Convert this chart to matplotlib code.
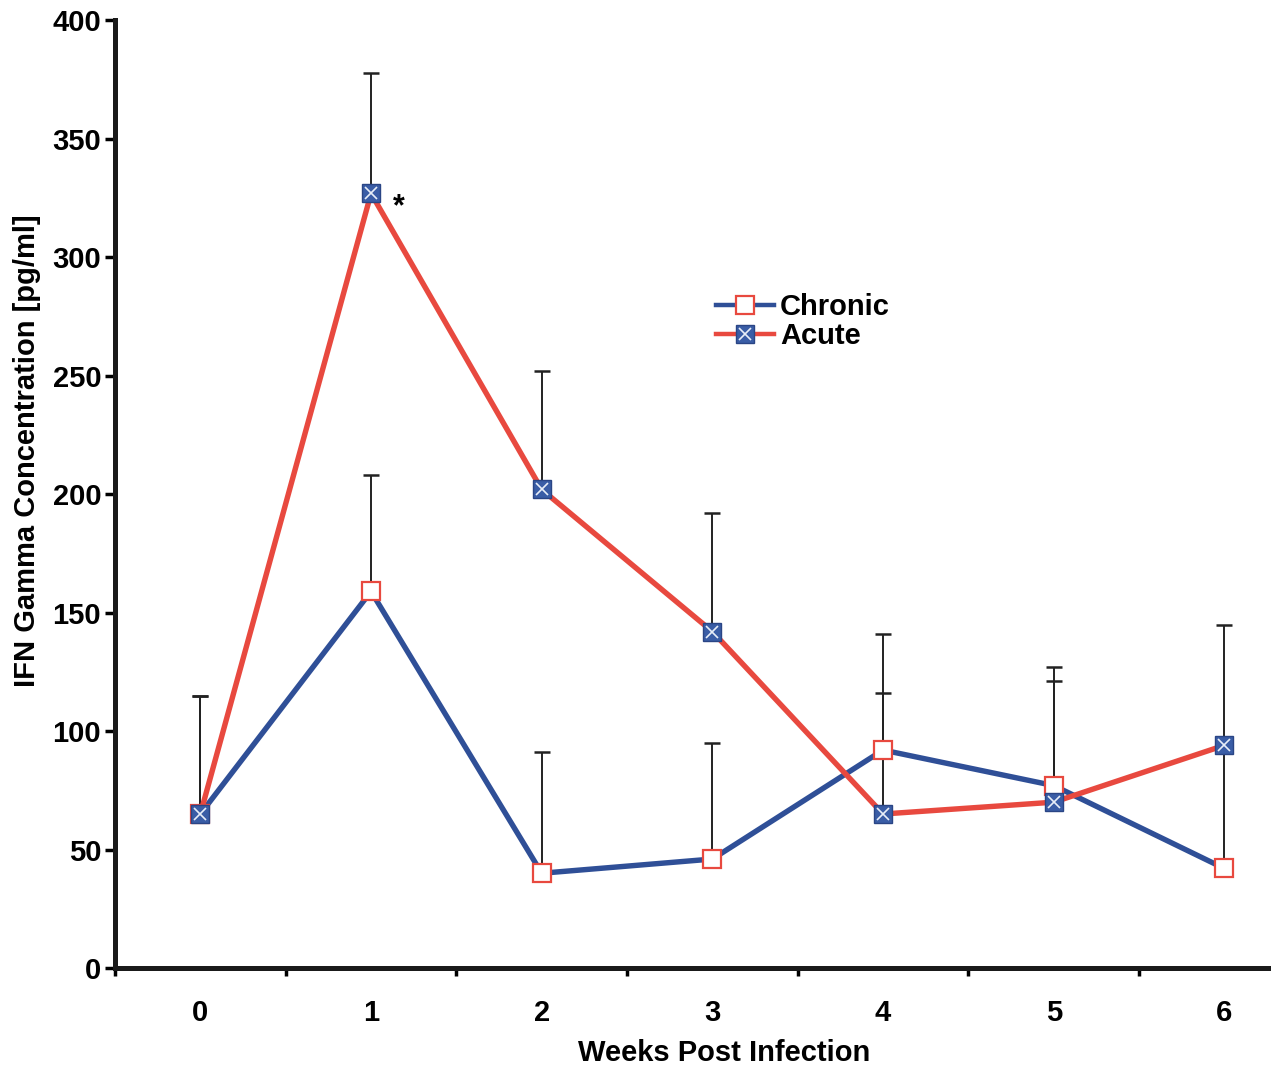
import matplotlib.pyplot as plt
from matplotlib.lines import Line2D
from matplotlib.legend_handler import HandlerTuple

plt.rcParams['font.family'] = ['Liberation Sans', 'DejaVu Sans']
plt.rcParams['font.weight'] = 'bold'

# IFN gamma over weeks post infection
weeks = [0, 1, 2, 3, 4, 5, 6]
chronic = [65, 159, 40, 46, 92, 77, 42]
acute = [65, 327, 202, 142, 65, 70, 94]
# upper error bars only
chronic_err = [50, 49, 51, 49, 49, 50, 52]
acute_err = [50, 51, 50, 50, 51, 51, 51]

red = '#e8493f'
blue = '#2f4f97'
marker_blue = '#3a5da6'

fig = plt.figure(figsize=(12.71, 10.67), dpi=100)
ax = fig.add_axes([0.0905, 0.0928, 0.94, 0.888])

# error bars
ax.errorbar(weeks, chronic, yerr=[[0] * 7, chronic_err], fmt='none',
            ecolor='#222222', elinewidth=1.4, capsize=5.5, capthick=1.8, zorder=1)
ax.errorbar(weeks, acute, yerr=[[0] * 7, acute_err], fmt='none',
            ecolor='#222222', elinewidth=1.4, capsize=5.5, capthick=1.8, zorder=1)

# lines
ax.plot(weeks, chronic, color=blue, lw=3.9, zorder=2, solid_capstyle='butt')
ax.plot(weeks, acute, color=red, lw=3.9, zorder=3, solid_capstyle='butt')

# markers
ax.plot(weeks, chronic, ls='none', marker='s', ms=12.5, mfc='white',
        mec=red, mew=1.6, zorder=4)
ax.plot(weeks, acute, ls='none', marker='s', ms=13, mfc=marker_blue,
        mec='#2a4585', mew=1.0, zorder=5)
ax.plot(weeks, acute, ls='none', marker='x', ms=9, mec='#e8eef8',
        mew=1.2, zorder=6)

ax.text(1.16, 321, '*', fontsize=22, fontweight='bold', ha='center', va='center')

ax.set_xlim(-0.5, 6.5)
ax.set_ylim(0, 400)
ax.set_yticks(range(0, 401, 50))

ax.set_xticks([x + 0.5 for x in range(-1, 7)])
ax.set_xticklabels([])
ax.set_xticks(weeks, minor=True)
ax.set_xticklabels([str(w) for w in weeks], minor=True)
ax.tick_params(axis='x', which='major', direction='out', length=6, width=2.5)
ax.tick_params(axis='x', which='minor', length=0, pad=22, labelsize=21)
ax.tick_params(axis='y', direction='out', length=7, width=2.5, labelsize=21, pad=3)

for side in ['top', 'right']:
    ax.spines[side].set_visible(False)
for side in ['left', 'bottom']:
    ax.spines[side].set_linewidth(3.6)
    ax.spines[side].set_color('#1a1a1a')

ax.set_ylabel('IFN Gamma Concentration [pg/ml]', fontsize=21, fontweight='bold')
ax.yaxis.set_label_coords(-0.062, 0.546)
ax.set_xlabel('Weeks Post Infection', fontsize=21, fontweight='bold')
ax.xaxis.set_label_coords(0.51, -0.075)

h_chronic = Line2D([], [], color=blue, lw=3.2, marker='s', ms=12.5,
                   mfc='white', mec=red, mew=1.6)
h_acute_sq = Line2D([], [], color=red, lw=3.2, marker='s', ms=13,
                    mfc=marker_blue, mec='#2a4585', mew=1.0)
h_acute_x = Line2D([], [], ls='none', marker='x', ms=9, mec='#e8eef8', mew=1.2)
ax.legend([h_chronic, (h_acute_sq, h_acute_x)], ['Chronic', 'Acute'],
          handler_map={tuple: HandlerTuple(ndivide=1, pad=0)},
          loc='upper left', bbox_to_anchor=(0.493, 0.725), frameon=False,
          fontsize=21, handlelength=2.0, handletextpad=0.2, labelspacing=0.05,
          borderaxespad=0)

fig.savefig('out.png', dpi=100)
